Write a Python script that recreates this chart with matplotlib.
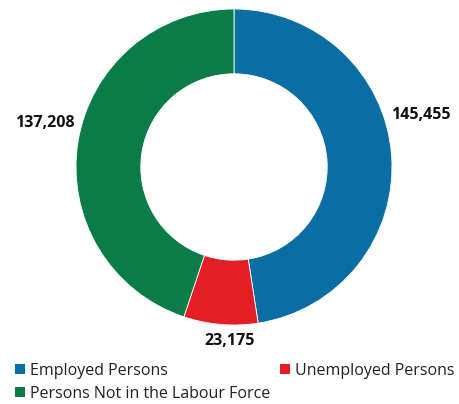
import numpy as np
import matplotlib.pyplot as plt
from matplotlib.patches import Patch

plt.rcParams['font.family'] = ['Open Sans', 'DejaVu Sans']

categories = ["Employed Persons", "Unemployed Persons", "Persons Not in the Labour Force"]
values = [145455, 23175, 137208]
colors = ["#0A6EA4", "#E31E26", "#0A7C48"]
# label anchors in axes data units (pie radius = 1)
label_xy = [(1.18, 0.33), (-0.03, -1.10), (-1.20, 0.28)]

W, H = 460, 404
cx, cy, r = 234, 167, 158

fig = plt.figure(figsize=(W / 100, H / 100), dpi=100)
ax = fig.add_axes([0, 0, 1, 1])
ax.pie(values, colors=colors, startangle=90, counterclock=False,
       radius=1, wedgeprops=dict(width=0.41, edgecolor="white", linewidth=0.6))
ax.set_xlim(-cx / r, (W - cx) / r)
ax.set_ylim(-(H - cy) / r, cy / r)
ax.axis("off")

for v, (x, y) in zip(values, label_xy):
    ax.text(x, y, f"{v:,}", ha="center", va="center", fontsize=11.5,
            fontweight="bold", color="#111111")

# row-wise legend: two columns
order = [0, 2, 1]
handles = [Patch(facecolor=colors[i], edgecolor="none") for i in order]
labels = [categories[i] for i in order]
fig.legend(handles, labels, ncol=2, loc="upper left", bbox_to_anchor=(0.033, 0.102),
           frameon=False, fontsize=11.5, handlelength=0.6, handleheight=0.6,
           handletextpad=0.35, columnspacing=0.6, labelspacing=0.45,
           borderaxespad=0, borderpad=0, labelcolor="#222222")

fig.savefig("out.png", dpi=100)
